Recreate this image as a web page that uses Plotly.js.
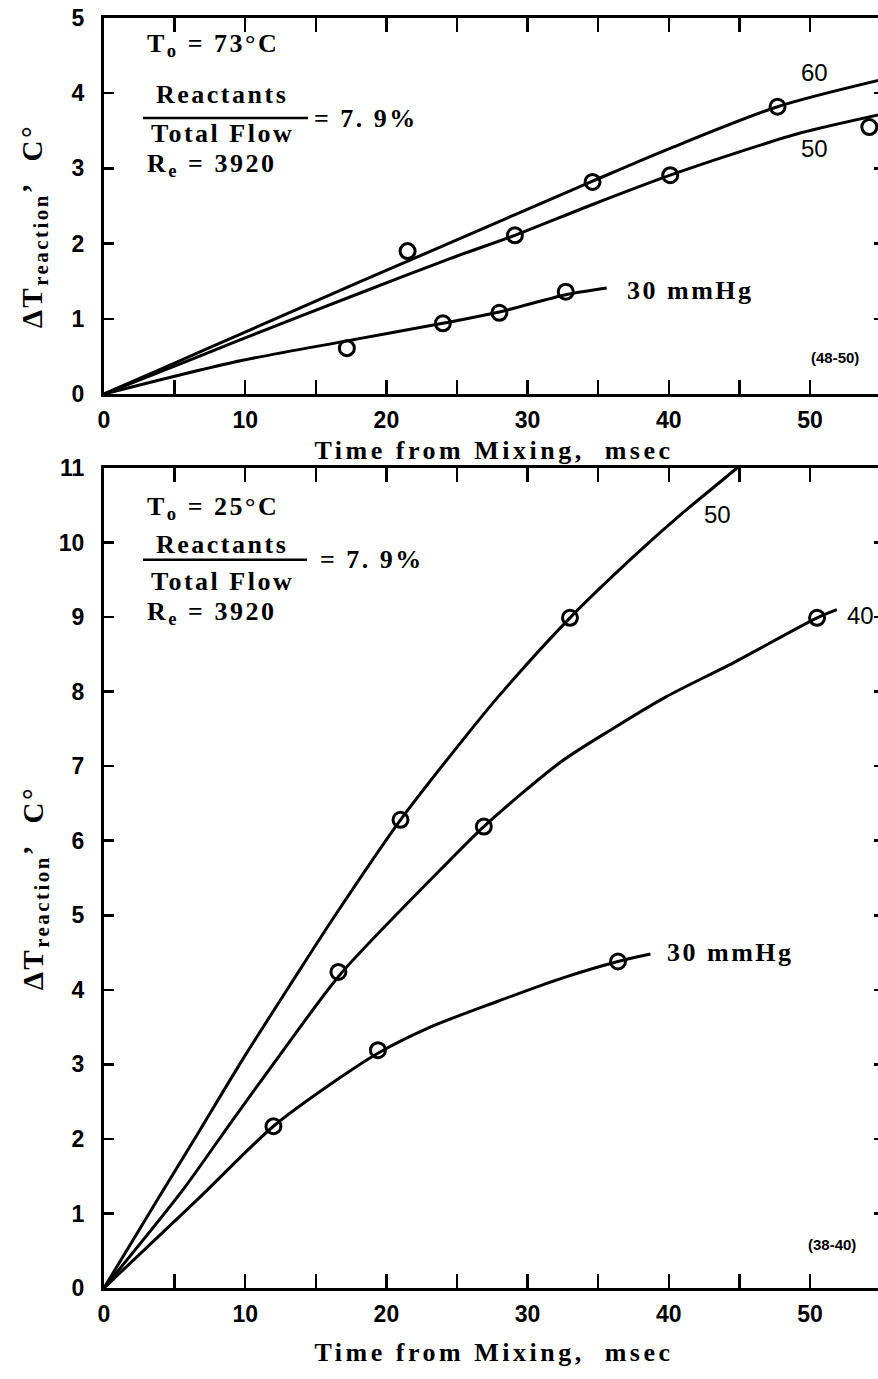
<!DOCTYPE html>
<html>
<head>
<meta charset="utf-8">
<script src="https://cdn.plot.ly/plotly-3.0.1.min.js"></script>
<style>
html, body { margin: 0; padding: 0; background: #fff; overflow: hidden; width: 878px; height: 1379px; }
#chart { width: 884px; height: 1379px; }
.annotation-text[style*="Serif"] { letter-spacing: 2.5px; }
.xtitle, .x2title { letter-spacing: 3.5px; }
</style>
</head>
<body>
<div id="chart"></div>
<script>
// ---------- Top panel (T0 = 73 C) ----------
const topLine60X = [0, 5, 9.1, 18.1, 24.5, 34.6, 40, 47.7, 55.3];
const topLine60Y = [0, 0.41, 0.75, 1.49, 2.01, 2.83, 3.26, 3.82, 4.19];
const topLine50X = [0, 5, 9.1, 18.1, 24.5, 29.1, 34.6, 40.1, 45, 49.3, 55.3];
const topLine50Y = [0, 0.37, 0.68, 1.34, 1.80, 2.11, 2.52, 2.91, 3.22, 3.47, 3.73];
const topLine30X = [0, 9.1, 17, 24, 28, 32.7, 35.6];
const topLine30Y = [0, 0.42, 0.70, 0.94, 1.09, 1.32, 1.41];

const topPts60X = [21.5, 34.6, 47.7];
const topPts60Y = [1.90, 2.82, 3.82];
const topPts50X = [29.1, 40.1, 54.2];
const topPts50Y = [2.11, 2.91, 3.55];
const topPts30X = [17.2, 24.0, 28.0, 32.7];
const topPts30Y = [0.61, 0.94, 1.08, 1.36];

// ---------- Bottom panel (T0 = 25 C) ----------
const botLine50X = [0, 3.9, 6.8, 9.8, 13.4, 16.2, 21.0, 25.7, 28.0, 33.0, 37.5, 41.0, 44.7, 46];
const botLine50Y = [0, 1.22, 2.12, 3.06, 4.13, 4.95, 6.28, 7.42, 7.95, 8.99, 9.81, 10.4, 10.98, 11.2];
const botLine40X = [0, 5.6, 9.1, 12.9, 16.7, 24.5, 26.9, 32.3, 36.0, 39.8, 44.6, 50.5, 51.9];
const botLine40Y = [0, 1.32, 2.25, 3.24, 4.2, 5.74, 6.19, 7.05, 7.50, 7.93, 8.39, 8.99, 9.1];
const botLine30X = [0, 6.8, 12.0, 16.7, 19.4, 23.1, 27.8, 32.5, 36.4, 38.7];
const botLine30Y = [0, 1.22, 2.17, 2.82, 3.15, 3.50, 3.84, 4.16, 4.38, 4.48];

const botPts50X = [21.0, 33.0];
const botPts50Y = [6.28, 8.99];
const botPts40X = [16.6, 26.9, 50.5];
const botPts40Y = [4.24, 6.19, 8.99];
const botPts30X = [12.0, 19.4, 36.4];
const botPts30Y = [2.17, 3.19, 4.38];

// ---------- Axis ticks ----------
const xTickVals = [0, 10, 20, 30, 40, 50];
const xTickText = ['0', '10', '20', '30', '40', '50'];
const topYTickVals = [0, 1, 2, 3, 4, 5];
const botYTickVals = [0, 1, 2, 3, 4, 5, 6, 7, 8, 9, 10, 11];

const SUB = '<span style="font-size:72%;baseline-shift:-28%">';
const xTitle = 'Time from Mixing,\u00a0 msec';
const yTitle = '\u0394T' + SUB + 'reaction</span>\u2019\u00a0 C\u00b0';

const INK = '#000';
function lineTrace(x, y, xa, ya, name) {
  return { type: 'scatter', mode: 'lines', x: x, y: y, xaxis: xa, yaxis: ya, name: name,
    line: { color: INK, width: 3, shape: 'spline', smoothing: 0.8 }, hoverinfo: 'skip', showlegend: false };
}
function ptTrace(x, y, xa, ya, name) {
  return { type: 'scatter', mode: 'markers', x: x, y: y, xaxis: xa, yaxis: ya, name: name,
    marker: { symbol: 'circle-open', size: 15, color: INK, line: { color: INK, width: 3 } }, showlegend: false };
}

const data = [
  lineTrace(topLine60X, topLine60Y, 'x', 'y', '60 mmHg'),
  lineTrace(topLine50X, topLine50Y, 'x', 'y', '50 mmHg'),
  lineTrace(topLine30X, topLine30Y, 'x', 'y', '30 mmHg'),
  ptTrace(topPts60X, topPts60Y, 'x', 'y', '60 mmHg data'),
  ptTrace(topPts50X, topPts50Y, 'x', 'y', '50 mmHg data'),
  ptTrace(topPts30X, topPts30Y, 'x', 'y', '30 mmHg data'),
  lineTrace(botLine50X, botLine50Y, 'x2', 'y2', '50 mmHg'),
  lineTrace(botLine40X, botLine40Y, 'x2', 'y2', '40 mmHg'),
  lineTrace(botLine30X, botLine30Y, 'x2', 'y2', '30 mmHg'),
  ptTrace(botPts50X, botPts50Y, 'x2', 'y2', '50 mmHg data'),
  ptTrace(botPts40X, botPts40Y, 'x2', 'y2', '40 mmHg data'),
  ptTrace(botPts30X, botPts30Y, 'x2', 'y2', '30 mmHg data')
];

const tickFont = { family: 'Liberation Sans, Arial, sans-serif', size: 23, color: INK, weight: 'bold' };
const serif = 'Liberation Serif, serif';
const titleFont = { family: serif, size: 26, color: INK, weight: 'bold' };

function xAxis(anchor, standoff) {
  return {
    anchor: anchor, domain: [0, 1], range: [0, 55.24], autorange: false,
    tickmode: 'array', tickvals: xTickVals, ticktext: xTickText,
    ticks: 'inside', ticklen: 14, tickwidth: 2.5, tickcolor: INK,
    minor: { tickmode: 'linear', tick0: 0, dtick: 5, ticks: 'inside', ticklen: 14, tickwidth: 2.5, tickcolor: INK, showgrid: false },
    showline: true, linewidth: 3, linecolor: INK, mirror: 'ticks',
    showgrid: false, zeroline: false, tickfont: tickFont, ticklabelstandoff: 3,
    automargin: false,
    title: { text: xTitle, font: titleFont, standoff: standoff }
  };
}
function yAxis(anchor, domain, range, vals) {
  return {
    anchor: anchor, domain: domain, range: range, autorange: false,
    tickmode: 'array', tickvals: vals,
    ticks: 'inside', ticklen: 10, tickwidth: 2.5, tickcolor: INK,
    showline: true, linewidth: 3, linecolor: INK, mirror: 'ticks',
    showgrid: false, zeroline: false, tickfont: tickFont, ticklabelstandoff: 12,
    automargin: false
  };
}

function ann(x, y, text, xa, ya, opts) {
  return Object.assign({ x: x, y: y, xref: xa, yref: ya, text: text, showarrow: false,
    xanchor: 'left', yanchor: 'middle', font: { family: serif, size: 26, color: INK, weight: 'bold' } }, opts || {});
}
const numFont = { family: 'Liberation Sans, Arial, sans-serif', size: 24, color: INK };
const smallFont = { family: 'Liberation Sans, Arial, sans-serif', size: 15, color: INK, weight: 'bold' };
const yTitleOpts = { xanchor: 'center', textangle: -90, font: { family: serif, size: 29, color: INK, weight: 'bold' } };

const annotations = [
  // y-axis titles (placed in paper coordinates, left of the plotting areas)
  ann(-0.088, 1 - 226 / 1379, yTitle, 'paper', 'paper', yTitleOpts),
  ann(-0.088, 1 - 888 / 1379, yTitle, 'paper', 'paper', yTitleOpts),

  ann(2.9, 4.64, 'T' + SUB + 'o</span> = 73\u00b0C', 'x', 'y'),
  ann(8.36, 3.98, 'Reactants', 'x', 'y', { xanchor: 'center' }),
  ann(8.36, 3.46, 'Total Flow', 'x', 'y', { xanchor: 'center' }),
  ann(14.73, 3.67, '= 7. 9%', 'x', 'y'),
  ann(2.9, 3.05, 'R' + SUB + 'e</span> = 3920', 'x', 'y'),
  ann(50.35, 4.28, '60', 'x', 'y', { xanchor: 'center', font: numFont }),
  ann(50.35, 3.27, '50', 'x', 'y', { xanchor: 'center', font: numFont }),
  ann(36.9, 1.38, '30 mmHg', 'x', 'y'),
  ann(51.77, 0.49, '(48-50)', 'x', 'y', { xanchor: 'center', font: smallFont }),

  ann(2.9, 10.47, 'T' + SUB + 'o</span> = 25\u00b0C', 'x2', 'y2'),
  ann(8.36, 9.97, 'Reactants', 'x2', 'y2', { xanchor: 'center' }),
  ann(8.36, 9.48, 'Total Flow', 'x2', 'y2', { xanchor: 'center' }),
  ann(15.16, 9.77, '= 7. 9%', 'x2', 'y2'),
  ann(2.9, 9.06, 'R' + SUB + 'e</span> = 3920', 'x2', 'y2'),
  ann(43.48, 10.38, '50', 'x2', 'y2', { xanchor: 'center', font: numFont }),
  ann(52.5, 9.02, '40', 'x2', 'y2', { font: numFont }),
  ann(39.73, 4.50, '30 mmHg', 'x2', 'y2'),
  ann(51.56, 0.58, '(38-40)', 'x2', 'y2', { xanchor: 'center', font: smallFont })
];

const shapes = [
  { type: 'line', xref: 'x', yref: 'y', x0: 2.76, x1: 14.45, y0: 3.67, y1: 3.67, line: { color: INK, width: 2.5 } },
  { type: 'line', xref: 'x2', yref: 'y2', x0: 2.76, x1: 14.38, y0: 9.77, y1: 9.77, line: { color: INK, width: 2.5 } }
];

const layout = {
  width: 884, height: 1379,
  margin: { l: 104, r: 0, t: 0, b: 0, pad: 0 },
  paper_bgcolor: '#fff', plot_bgcolor: '#fff',
  showlegend: false,
  xaxis: xAxis('y', 10),
  yaxis: yAxis('x', [1 - 394 / 1379, 1 - 18 / 1379], [0, 5], topYTickVals),
  xaxis2: xAxis('y2', 18),
  yaxis2: yAxis('x2', [1 - 1288 / 1379, 1 - 468 / 1379], [0, 11], botYTickVals),
  annotations: annotations,
  shapes: shapes
};

Plotly.newPlot('chart', data, layout, { displayModeBar: false, staticPlot: true });
</script>
</body>
</html>
